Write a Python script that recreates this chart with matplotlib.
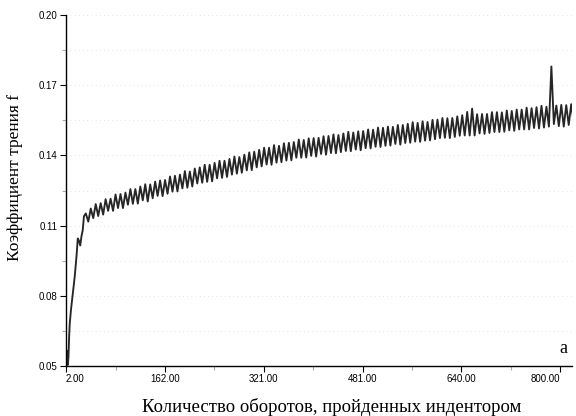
import matplotlib
matplotlib.use("Agg")
import matplotlib.pyplot as plt
from matplotlib.ticker import FixedLocator, FormatStrFormatter

# ---- data ----
start_x = [2, 3, 4, 5, 6, 7, 8, 10, 13, 16, 19, 21, 23, 25, 27, 29, 31]
start_y = [0.058, 0.0505, 0.0565, 0.0505, 0.054, 0.062, 0.068, 0.074, 0.081,
           0.088, 0.097, 0.1045, 0.1035, 0.1015, 0.1055, 0.1080, 0.1140]

osc_x = [34, 38, 42, 46, 50, 54, 58, 62, 66, 70, 74, 78, 82, 86, 90, 94, 98,
         102, 106, 110, 114, 118, 122, 126, 130, 134, 138, 142, 146, 150, 154, 158,
         162, 166, 170, 174, 178, 182, 186, 190, 194, 198, 202, 206, 210, 214, 218,
         222, 226, 230, 234, 238, 242, 246, 250, 254, 258, 262, 266, 270, 274, 278,
         282, 286, 290, 294, 298, 302, 306, 310, 314, 318, 322, 326, 330, 334, 338,
         342, 346, 350, 354, 358, 362, 366, 370, 374, 378, 382, 386, 390, 394, 398,
         402, 406, 410, 414, 418, 422, 426, 430, 434, 438, 442, 446, 450, 454, 458,
         462, 466, 470, 474, 478, 482, 486, 490, 494, 498, 502, 506, 510, 514, 518,
         522, 526, 530, 534, 538, 542, 546, 550, 554, 558, 562, 566, 570, 574, 578,
         582, 586, 590, 594, 598, 602, 606, 610, 614, 618, 622, 626, 630, 634, 638,
         642, 646, 650, 654, 658, 662, 666, 670, 674, 678, 682, 686, 690, 694, 698,
         702, 706, 710, 714, 718, 722, 726, 730, 734, 738, 742, 746, 750, 754, 758,
         762, 766, 770, 774, 778, 782, 786, 790, 794, 798, 802, 806, 810, 814, 818,
         822]
osc_y = [0.1152, 0.1117, 0.1173, 0.1132, 0.1192, 0.1141, 0.1196, 0.1147, 0.1213, 0.1163,
         0.1215, 0.1163, 0.1233, 0.1175, 0.1235, 0.1175, 0.1241, 0.1189, 0.1256, 0.1193,
         0.1256, 0.1194, 0.1267, 0.1208, 0.1277, 0.1203, 0.1276, 0.1217, 0.1288, 0.1227,
         0.1293, 0.1226, 0.1295, 0.1236, 0.1310, 0.1245, 0.1313, 0.1246, 0.1318, 0.1259,
         0.1333, 0.1262, 0.1331, 0.1267, 0.1344, 0.1280, 0.1349, 0.1283, 0.1360, 0.1287,
         0.1360, 0.1289, 0.1368, 0.1302, 0.1377, 0.1304, 0.1377, 0.1308, 0.1385, 0.1318,
         0.1395, 0.1322, 0.1393, 0.1326, 0.1403, 0.1336, 0.1413, 0.1337, 0.1416, 0.1349,
         0.1424, 0.1353, 0.1433, 0.1361, 0.1433, 0.1360, 0.1444, 0.1369, 0.1441, 0.1371,
         0.1452, 0.1378, 0.1454, 0.1379, 0.1457, 0.1390, 0.1468, 0.1390, 0.1466, 0.1391,
         0.1473, 0.1398, 0.1474, 0.1395, 0.1475, 0.1406, 0.1482, 0.1403, 0.1483, 0.1410,
         0.1490, 0.1409, 0.1487, 0.1414, 0.1494, 0.1419, 0.1501, 0.1418, 0.1498, 0.1425,
         0.1503, 0.1422, 0.1504, 0.1431, 0.1511, 0.1430, 0.1510, 0.1437, 0.1519, 0.1436,
         0.1518, 0.1441, 0.1523, 0.1442, 0.1522, 0.1449, 0.1530, 0.1446, 0.1530, 0.1453,
         0.1535, 0.1454, 0.1542, 0.1459, 0.1539, 0.1458, 0.1546, 0.1463, 0.1543, 0.1464,
         0.1552, 0.1469, 0.1553, 0.1474, 0.1560, 0.1475, 0.1559, 0.1474, 0.1560, 0.1479,
         0.1567, 0.1484, 0.1572, 0.1485, 0.1586, 0.1485, 0.1600, 0.1485, 0.1576, 0.1494,
         0.1577, 0.1492, 0.1577, 0.1496, 0.1585, 0.1500, 0.1585, 0.1500, 0.1584, 0.1501,
         0.1592, 0.1507, 0.1590, 0.1505, 0.1596, 0.1511, 0.1596, 0.1511, 0.1604, 0.1511,
         0.1602, 0.1517, 0.1606, 0.1515, 0.1612, 0.1519, 0.1608, 0.1523, 0.1780, 0.1534,
         0.1613, 0.1525, 0.1616, 0.1523, 0.1615, 0.1530, 0.1619, 0.1542]

x_ticks = [2, 162, 321, 481, 640, 800]
x_minor = [82, 241.5, 401, 560.5, 720]
y_ticks = [0.05, 0.08, 0.11, 0.14, 0.17, 0.20]
y_minor = [0.065, 0.095, 0.125, 0.155, 0.185]

x_all = start_x + osc_x
y_all = start_y + osc_y

# ---- figure ----
fig = plt.figure(figsize=(5.76, 4.16), dpi=100)
ax = fig.add_axes([0.1146, 0.1202, 0.8792, 0.8437])

ax.plot(x_all, y_all, color="#262626", lw=1.35, solid_joinstyle="round")

ax.set_xlim(2, 820)
ax.set_ylim(0.05, 0.20)

for s in ("top", "right"):
    ax.spines[s].set_visible(False)
for s in ("left", "bottom"):
    ax.spines[s].set_color("black")
    ax.spines[s].set_linewidth(1.0)

ax.xaxis.set_major_locator(FixedLocator(x_ticks))
ax.xaxis.set_minor_locator(FixedLocator(x_minor))
ax.yaxis.set_major_locator(FixedLocator(y_ticks))
ax.yaxis.set_minor_locator(FixedLocator(y_minor))
ax.xaxis.set_major_formatter(FormatStrFormatter("%.2f"))
ax.yaxis.set_major_formatter(FormatStrFormatter("%.2f"))

ax.tick_params(axis="both", which="major", length=4, width=0.8, color="black",
               labelsize=7, pad=2)
ax.tick_params(axis="both", which="minor", length=3, width=0.8, color="#aaaaaa")
for lbl in ax.get_xticklabels() + ax.get_yticklabels():
    lbl.set_family("Liberation Sans")
xl = ax.get_xticklabels()
xl[0].set_horizontalalignment("left")
xl[-1].set_horizontalalignment("right")

ax.grid(True, which="both", axis="y", color="#dddddd", lw=0.6, ls=(0, (1, 4)))

ax.set_xlabel("Количество оборотов, пройденных индентором", family="Liberation Serif",
              fontsize=13.5)
ax.set_ylabel("Коэффициент трения f", family="Liberation Serif", fontsize=12.5)
ax.xaxis.set_label_coords(0.525, -0.09)
ax.yaxis.set_label_coords(-0.084, 0.536)

ax.text(0.99, 0.025, "а", transform=ax.transAxes, family="Liberation Serif",
        fontsize=13, ha="right", va="bottom")

fig.savefig("out.png", dpi=100, facecolor="white")
